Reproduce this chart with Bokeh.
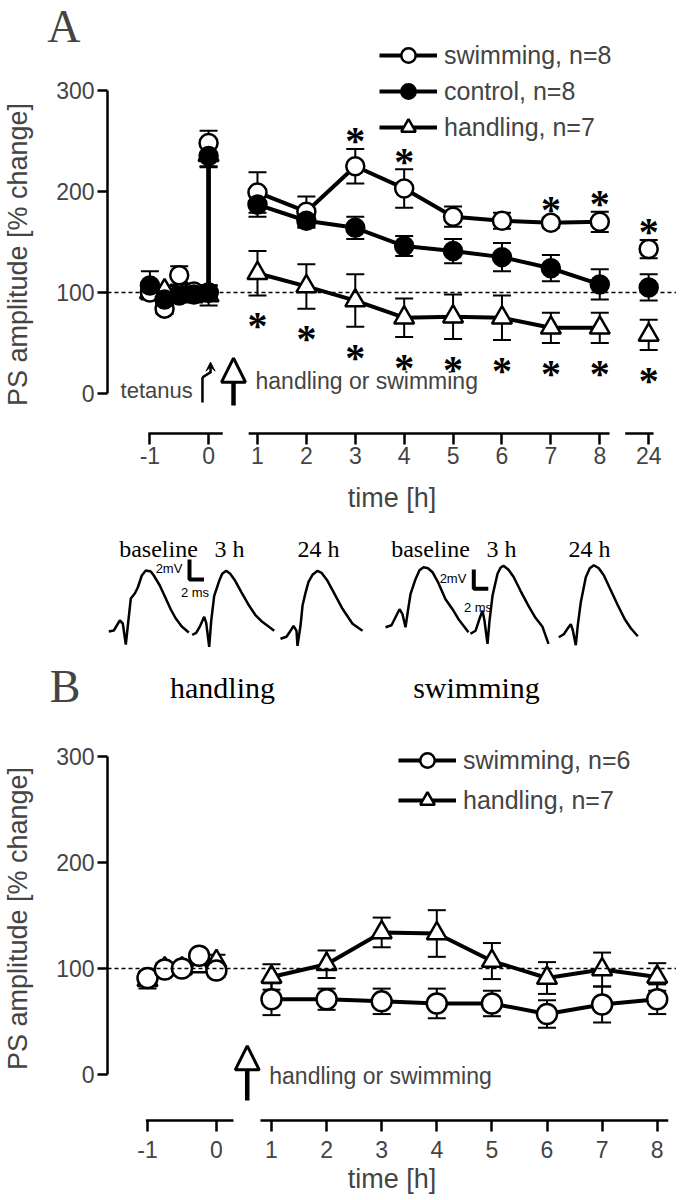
from bokeh.plotting import figure
from bokeh.models import (ColumnDataSource, Whisker, TeeHead, Span, Label, Legend, LegendItem,
                          FixedTicker, Arrow, NormalHead, VeeHead, Range1d)
from bokeh.layouts import column
from bokeh.embed import file_html
from bokeh.resources import INLINE
from bokeh.core.properties import value

# ------------------------------------------------------------------ data
hours_base = [-1.0, -0.75, -0.5, -0.25, 0.0]
hours_post = [1, 2, 3, 4, 5, 6, 7, 8]
hour_late = 24
tick_hours_A = [-1, 0, 1, 2, 3, 4, 5, 6, 7, 8, 24]
tick_hours_B = [-1, 0, 1, 2, 3, 4, 5, 6, 7, 8]

# Panel A  (mean and s.e.m., % of baseline)
A_swim_base = [100, 84, 117, 101, 100]
A_swim_base_sem = [6, 5, 9, 6, 7]
A_swim_tet, A_swim_tet_sem = 248, 12
A_swim_post = [199, 180, 225, 203, 175, 171, 169, 170]
A_swim_post_sem = [20, 15, 17, 19, 10, 8, 5, 10]
A_swim_24, A_swim_24_sem = 143, 9

A_ctrl_base = [107, 93, 97, 98, 100]
A_ctrl_base_sem = [14, 5, 6, 8, 7]
A_ctrl_tet, A_ctrl_tet_sem = 235, 10
A_ctrl_post = [187, 171, 164, 146, 141, 135, 124, 108]
A_ctrl_post_sem = [12, 7, 11, 10, 12, 14, 13, 15]
A_ctrl_24, A_ctrl_24_sem = 105, 13

A_hand_base = [100, 102, 100, 98, 97]
A_hand_base_sem = [5, 5, 6, 5, 10]
A_hand_tet, A_hand_tet_sem = 236, 12
A_hand_post = [119, 106, 92, 75, 76, 75, 65, 65]
A_hand_post_sem = [22, 22, 26, 19, 22, 22, 15, 15]
A_hand_24, A_hand_24_sem = 58, 15

A_swim_star_hours = [3, 4, 7, 8, 24]
A_hand_star_hours = [1, 2, 3, 4, 5, 6, 7, 8, 24]

# Panel B
B_swim_base = [91, 99, 100, 112, 98]
B_swim_base_sem = [6, 4, 4, 5, 6]
B_swim_post = [71, 71, 69, 67, 67, 57, 66, 71]
B_swim_post_sem = [15, 10, 12, 14, 12, 13, 17, 14]
B_hand_base = [89, 100, 100, 102, 107]
B_hand_base_sem = [8, 5, 5, 5, 6]
B_hand_post = [92, 104, 134, 133, 107, 91, 99, 92]
B_hand_post_sem = [12, 13, 14, 22, 17, 15, 16, 13]

# Example field-potential traces (ms, mV relative to trace start)
tr_hand_base_t = [0, 0.5, 1.1, 1.4, 1.7, 2.2, 2.6, 2.9, 3.3, 3.7, 4.2, 4.5, 5.1, 5.7, 6.2, 6.7, 7.3, 8.0]
tr_hand_base_v = [0, 0.1, 1.1, 0.8, -1.3, 3.3, 3.8, 4.4, 5.6, 6.1, 6.0, 5.6, 4.6, 3.3, 2.2, 1.3, 0.5, -0.1]
tr_hand_3h_t = [0, 0.4, 0.8, 1.2, 1.4, 1.7, 1.9, 2.2, 2.7, 3.0, 3.4, 3.8, 4.3, 4.9, 5.7, 6.3, 7.0, 8.2]
tr_hand_3h_v = [0, 0.2, 0.9, 1.8, 1.2, -1.2, 1.4, 3.9, 5.4, 6.1, 6.4, 6.1, 5.4, 4.3, 2.9, 2.0, 1.3, 0.4]
tr_hand_24h_t = [0, 0.6, 1.0, 1.3, 1.6, 1.7, 2.0, 2.2, 2.5, 2.8, 3.2, 3.7, 4.1, 4.7, 5.4, 6.2, 7.2, 8.2]
tr_hand_24h_v = [0, 0.2, 0.8, 1.3, 0.8, -0.7, 1.3, 3.3, 4.6, 5.7, 6.4, 6.8, 6.6, 5.8, 4.5, 3.0, 1.5, 0.8]
tr_swim_base_t = [0, 0.6, 1.1, 1.4, 1.7, 2.0, 2.25, 2.5, 3.0, 3.4, 3.8, 4.25, 4.7, 5.3, 6.0, 6.7, 7.3, 8.3]
tr_swim_base_v = [0, 0.2, 1.2, 1.8, 1.3, 0.0, 1.7, 3.3, 4.8, 5.7, 6.0, 5.9, 5.5, 4.4, 2.8, 1.8, 0.8, -0.5]
tr_swim_3h_t = [0, 0.5, 0.9, 1.2, 1.4, 1.7, 1.9, 2.2, 2.7, 3.0, 3.3, 3.8, 4.3, 5.0, 5.8, 6.5, 7.2, 7.8]
tr_swim_3h_v = [0, 0.3, 1.5, 2.3, 1.3, -1.0, 1.3, 3.8, 6.0, 6.6, 6.8, 6.4, 5.7, 4.3, 2.8, 1.6, 0.7, -1.0]
tr_swim_24h_t = [0, 0.5, 0.9, 1.2, 1.4, 1.7, 1.9, 2.2, 2.7, 3.1, 3.5, 4.0, 4.5, 5.2, 5.9, 6.6, 7.2, 7.9]
tr_swim_24h_v = [0, 0.3, 0.9, 1.3, 0.7, -0.8, 1.2, 3.5, 6.0, 6.9, 7.2, 6.9, 6.2, 4.7, 3.2, 1.8, 0.9, 0.1]

# ------------------------------------------------------------------ helpers
SANS = "Liberation Sans"
SERIF = "Liberation Serif"
W = 676
LEFT = 107


def pos_A(t):
    if t <= 0:
        return 1.2 * t
    return 9.0 if t == 24 else float(t)


def pos_B(t):
    if t <= 0:
        return 1.25 * t
    return float(t)


def bare(p):
    p.grid.visible = False
    p.outline_line_color = None


def letter_axis(p, text, ypos):
    """Panel letter drawn as the single tick label of an otherwise invisible left axis."""
    ax = p.yaxis[0]
    ax.ticker = FixedTicker(ticks=[ypos])
    ax.major_label_overrides = {ypos: text}
    ax.axis_line_color = None
    ax.major_tick_line_color = None
    ax.minor_tick_line_color = None
    ax.major_tick_out = 0
    ax.major_tick_in = 0
    ax.major_label_standoff = 27
    ax.major_label_text_font = SERIF
    ax.major_label_text_font_size = "46px"


def style_panel(p, ticks_pos, ticks_lab, lab_standoff, title_standoff):
    bare(p)
    yax = p.yaxis[0]
    yax.ticker = FixedTicker(ticks=[0, 100, 200, 300])
    yax.bounds = (0, 300)
    yax.axis_line_width = 2.5
    yax.major_tick_line_width = 2.5
    yax.major_tick_out = 10
    yax.major_tick_in = 0
    yax.minor_tick_line_color = None
    yax.major_label_text_font = SANS
    yax.major_label_text_font_size = "23px"
    yax.major_label_standoff = 3
    yax.axis_label = "PS amplitude [% change]"
    yax.axis_label_text_font = SANS
    yax.axis_label_text_font_size = "27px"
    yax.axis_label_text_font_style = "normal"
    yax.axis_label_standoff = 20
    xax = p.xaxis[0]
    xax.ticker = FixedTicker(ticks=ticks_pos)
    xax.major_label_overrides = {k: v for k, v in zip(ticks_pos, ticks_lab)}
    xax.axis_line_color = None
    xax.major_tick_line_width = 2.5
    xax.major_tick_out = 9
    xax.major_tick_in = 2
    xax.minor_tick_line_color = None
    xax.major_label_text_font = SANS
    xax.major_label_text_font_size = "23px"
    xax.major_label_standoff = lab_standoff
    xax.axis_label = "time [h]"
    xax.axis_label_text_font = SANS
    xax.axis_label_text_font_size = "27px"
    xax.axis_label_text_font_style = "normal"
    xax.axis_label_standoff = title_standoff
    p.add_layout(Span(location=100, dimension="width", line_dash="4 3",
                      line_width=1.5, line_color="black"))


def add_series(p, xb, yb, sb, xp, yp, sp, xl, yl, sl, marker, fill, size, lw=4):
    p.line(xb, yb, line_width=lw, line_color="black")
    rp = p.line(xp, yp, line_width=lw, line_color="black")
    xs = list(xb) + list(xp) + list(xl)
    ys = list(yb) + list(yp) + list(yl)
    ss = list(sb) + list(sp) + list(sl)
    src = ColumnDataSource(dict(x=xs, y=ys,
                                lo=[a - b for a, b in zip(ys, ss)],
                                hi=[a + b for a, b in zip(ys, ss)]))
    p.add_layout(Whisker(source=src, base="x", lower="lo", upper="hi",
                         line_width=2, line_color="black", level="underlay",
                         upper_head=TeeHead(size=18, line_width=2, line_color="black"),
                         lower_head=TeeHead(size=18, line_width=2, line_color="black")))
    rs = p.scatter("x", "y", source=src, marker=marker, size=size,
                   fill_color=fill, line_color="black", line_width=2.5)
    return rp, rs


def legend(items, loc, spacing=0):
    return Legend(items=items, location=loc, glyph_width=58, glyph_height=36,
                  label_height=36, spacing=spacing, label_standoff=7, padding=0, margin=0,
                  label_text_font=SANS, label_text_font_size="25px",
                  background_fill_alpha=0, border_line_alpha=0)


def common(**kw):
    return dict(output_backend="svg", toolbar_location=None, min_border_left=LEFT,
                min_border_right=0, min_border_top=0, **kw)


XR_A = (-2.067, 9.569)
xbA = [pos_A(t) for t in hours_base] + [pos_A(0)]
xpA = [pos_A(t) for t in hours_post]
xlA = [pos_A(hour_late)]

# ------------------------------------------------------------------ header: letter A + first legend row
# (continues panel A's value scale upward; the swimming series lies below it and is clipped)
pH = figure(width=W, height=73, x_range=Range1d(*XR_A), y_range=Range1d(316.8, 389.1),
            x_axis_type=None, min_border_bottom=0, **common())
bare(pH)
letter_axis(pH, "A", 364.4)
h_line = pH.line(xpA, A_swim_post, line_width=4, line_color="black")
h_mark = pH.scatter(xpA, A_swim_post, marker="circle", size=18, fill_color="white",
                    line_color="black", line_width=2.5)
pH.add_layout(legend([LegendItem(label="swimming, n=8", renderers=[h_line, h_mark])], (272, 0)))

# ------------------------------------------------------------------ panel A
pA = figure(width=W, height=452, x_range=Range1d(*XR_A),
            y_range=Range1d(-41.6, 316.8), min_border_bottom=90, **common())
ticksA = [pos_A(t) for t in tick_hours_A]
style_panel(pA, ticksA, [str(t) for t in tick_hours_A], 2, 16)

axis_yA = -39.6
pA.segment(x0=[pos_A(-1) - 0.03, 0.82, 8.52], x1=[0.29, 8.2, 9.1],
           y0=[axis_yA] * 3, y1=[axis_yA] * 3, line_width=2.5, line_color="black")

hand = add_series(pA, xbA, A_hand_base + [A_hand_tet], A_hand_base_sem + [A_hand_tet_sem],
                  xpA, A_hand_post, A_hand_post_sem, xlA, [A_hand_24], [A_hand_24_sem],
                  "triangle", "white", 20)
swim = add_series(pA, xbA, A_swim_base + [A_swim_tet], A_swim_base_sem + [A_swim_tet_sem],
                  xpA, A_swim_post, A_swim_post_sem, xlA, [A_swim_24], [A_swim_24_sem],
                  "circle", "white", 18)
ctrl = add_series(pA, xbA, A_ctrl_base + [A_ctrl_tet], A_ctrl_base_sem + [A_ctrl_tet_sem],
                  xpA, A_ctrl_post, A_ctrl_post_sem, xlA, [A_ctrl_24], [A_ctrl_24_sem],
                  "circle", "black", 18)

# significance asterisks
swim_all = dict(zip(hours_post + [hour_late], A_swim_post + [A_swim_24]))
swim_sem = dict(zip(hours_post + [hour_late], A_swim_post_sem + [A_swim_24_sem]))
hand_all = dict(zip(hours_post + [hour_late], A_hand_post + [A_hand_24]))
hand_sem = dict(zip(hours_post + [hour_late], A_hand_post_sem + [A_hand_24_sem]))
star_x = [pos_A(h) for h in A_swim_star_hours] + [pos_A(h) for h in A_hand_star_hours]
star_y = ([swim_all[h] + swim_sem[h] + 16 for h in A_swim_star_hours] +
          [hand_all[h] - hand_sem[h] - 22 for h in A_hand_star_hours])
pA.text(x=star_x, y=star_y, text=["*"] * len(star_x), text_font=value(SERIF),
        text_font_size="40px", text_font_style="bold", text_align="center",
        text_baseline="middle", y_offset=8, text_color="black")

pA.add_layout(legend([LegendItem(label="control, n=8", renderers=list(ctrl)),
                      LegendItem(label="handling, n=7", renderers=list(hand))], (272, 290)))

# tetanus and intervention arrows
pA.add_layout(Arrow(end=None, x_start=-0.125, y_start=-9, x_end=-0.125, y_end=16,
                    line_width=2.5, line_color="black"))
pA.add_layout(Arrow(end=None, x_start=-0.125, y_start=16, x_end=0.04, y_end=21,
                    line_width=2.5, line_color="black"))
pA.add_layout(Arrow(end=VeeHead(size=9, fill_color="black", line_color="black"),
                    x_start=0.04, y_start=20, x_end=0.04, y_end=31,
                    line_width=2.5, line_color="black"))
pA.add_layout(Arrow(end=NormalHead(size=24, fill_color="white", line_color="black", line_width=3),
                    x_start=0.51, y_start=-12, x_end=0.51, y_end=35,
                    line_width=4.5, line_color="black"))
pA.add_layout(Label(x=-1.80, y=3, text="tetanus", text_font=SANS, text_font_size="22px",
                    text_baseline="middle", text_align="left"))
pA.add_layout(Label(x=0.96, y=12, text="handling or swimming", text_font=SANS,
                    text_font_size="23px", text_baseline="middle", text_align="left"))

# ------------------------------------------------------------------ example traces + letter B
pT = figure(width=W, height=189, x_range=Range1d(10.7, 67.6), y_range=Range1d(0, 18.9),
            x_axis_type=None, min_border_bottom=0, **common())
bare(pT)
letter_axis(pT, "B", 2.8)

traces = [(tr_hand_base_t, tr_hand_base_v, 10.83, 8.30),
          (tr_hand_3h_t, tr_hand_3h_v, 19.17, 7.97),
          (tr_hand_24h_t, tr_hand_24h_v, 28.00, 7.57),
          (tr_swim_base_t, tr_swim_base_v, 38.50, 8.73),
          (tr_swim_3h_t, tr_swim_3h_v, 47.00, 8.07),
          (tr_swim_24h_t, tr_swim_24h_v, 55.83, 7.73)]
for tt, vv, x0, y0 in traces:
    pT.line([x0 + a for a in tt], [y0 + b for b in vv], line_width=2.5, line_color="black")

# scale bars (2 mV / 2 ms)
for xs, ytop, ybot in [(18.9, 15.5, 13.5), (47.33, 14.5, 12.57)]:
    pT.line([xs, xs, xs + 1.45], [ytop, ybot, ybot], line_width=4, line_color="black")
pT.text(x=[16.85, 19.45, 45.25, 47.75], y=[14.6, 12.2, 13.63, 10.73],
        text=["2mV", "2 ms", "2mV", "2 ms"], text_font=value(SANS), text_font_size="13px",
        text_align="center", text_baseline="middle")
pT.text(x=[15.8, 22.9, 31.8, 43.0, 50.1, 58.9], y=[16.6] * 6,
        text=["baseline", "3 h", "24 h", "baseline", "3 h", "24 h"],
        text_font=value(SERIF), text_font_size="24px", text_align="center",
        text_baseline="middle")
pT.text(x=[22.2, 47.6], y=[2.7, 2.7], text=["handling", "swimming"],
        text_font=value(SERIF), text_font_size="30px", text_align="center",
        text_baseline="middle")

# ------------------------------------------------------------------ panel B
pB = figure(width=W, height=486, x_range=Range1d(-1.976, 8.35),
            y_range=Range1d(-45.3, 339.6), min_border_bottom=78, **common())
ticksB = [pos_B(t) for t in tick_hours_B]
style_panel(pB, ticksB, [str(t) for t in tick_hours_B], 9, 3)
axis_yB = -43.4
pB.segment(x0=[pos_B(-1) - 0.03, 0.80], x1=[0.31, 8.2], y0=[axis_yB] * 2, y1=[axis_yB] * 2,
           line_width=2.5, line_color="black")

xbB = [pos_B(t) for t in hours_base]
xpB = [pos_B(t) for t in hours_post]
handB = add_series(pB, xbB, B_hand_base, B_hand_base_sem, xpB, B_hand_post, B_hand_post_sem,
                   [], [], [], "triangle", "white", 20)
swimB = add_series(pB, xbB, B_swim_base, B_swim_base_sem, xpB, B_swim_post, B_swim_post_sem,
                   [], [], [], "circle", "white", 20)

pB.add_layout(legend([LegendItem(label="swimming, n=6", renderers=list(swimB)),
                      LegendItem(label="handling, n=7", renderers=list(handB))],
                     (291, 304), spacing=4))
pB.add_layout(Arrow(end=NormalHead(size=24, fill_color="white", line_color="black", line_width=3),
                    x_start=0.56, y_start=-24.5, x_end=0.56, y_end=27,
                    line_width=4.5, line_color="black"))
pB.add_layout(Label(x=0.96, y=-1, text="handling or swimming", text_font=SANS,
                    text_font_size="23px", text_baseline="middle", text_align="left"))

layout = column(pH, pA, pT, pB, spacing=0)
open("out.html", "w").write(file_html(layout, INLINE))
